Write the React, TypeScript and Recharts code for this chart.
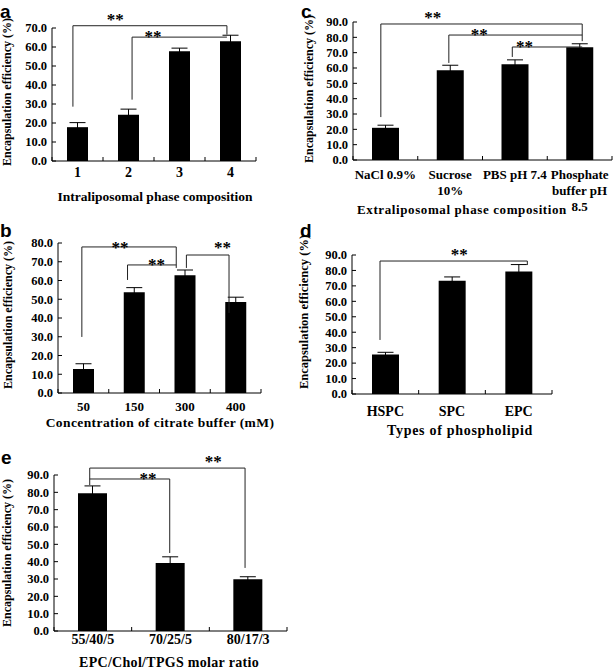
import React from "react";
import { BarChart, Bar, XAxis, YAxis, ErrorBar, ReferenceLine, ReferenceDot } from "recharts";

const PAGE_W = 614;
const PAGE_H = 670;
const SERIF = '"Liberation Serif", "Times New Roman", serif';
const SANS = '"Liberation Sans", Arial, sans-serif';

// brackets: [xStart, yStart, yTop, xEnd, yEnd], x in category units (bar i centre = i + 0.5)
// stars: [x, y]

// panel a
const catsA = ["1", "2", "3", "4"];
const effA = [17.8, 24.3, 57.8, 63.0];
const sdA = [2.4, 3.0, 1.6, 3.2];
const ticksA = [0, 10, 20, 30, 40, 50, 60, 70];
const bracketsA = [
  [0.41, 28.6, 71.2, 3.43, 66.5],
  [1.57, 32.3, 65.2, 3.43, 65.2],
];
const starsA = [
  [1.24, 75.8],
  [1.98, 67.3],
];

// panel b
const catsB = ["50", "150", "300", "400"];
const effB = [12.8, 53.8, 62.8, 48.5];
const sdB = [2.8, 2.4, 2.8, 2.6];
const ticksB = [0, 10, 20, 30, 40, 50, 60, 70, 80];
const bracketsB = [
  [0.47, 29.9, 77.9, 2.33, 66.7],
  [1.37, 60.3, 68.3, 2.33, 68.3],
  [2.53, 66.7, 73.6, 3.37, 42.7],
];
const starsB = [
  [1.22, 79.0],
  [1.94, 69.9],
  [3.24, 79.0],
];

// panel c
const catsC = ["NaCl 0.9%", "Sucrose\n10%", "PBS pH 7.4", "Phosphate\nbuffer pH\n8.5"];
const effC = [21.0, 58.5, 62.5, 73.5];
const sdC = [1.7, 3.3, 2.8, 2.3];
const ticksC = [0, 10, 20, 30, 40, 50, 60, 70, 80, 90];
const bracketsC = [
  [0.43, 28.0, 88.7, 3.54, 77.5],
  [1.48, 63.3, 81.5, 3.54, 81.5],
  [2.46, 67.2, 73.7, 3.54, 73.7],
];
const starsC = [
  [1.23, 94.6],
  [1.95, 83.5],
  [2.65, 76.3],
];

// panel d
const catsD = ["HSPC", "SPC", "EPC"];
const effD = [25.5, 73.3, 79.3];
const sdD = [1.5, 2.5, 4.5];
const ticksD = [0, 10, 20, 30, 40, 50, 60, 70, 80, 90];
const bracketsD = [[0.42, 35.0, 86.1, 2.63, 83.5]];
const starsD = [[1.61, 92.0]];

// panel e
const catsE = ["55/40/5", "70/25/5", "80/17/3"];
const effE = [79.5, 39.3, 29.8];
const sdE = [4.2, 3.5, 1.5];
const ticksE = [0, 10, 20, 30, 40, 50, 60, 70, 80, 90];
const bracketsE = [
  [0.46, 84.2, 94.0, 2.46, 36.4],
  [0.46, 87.7, 87.7, 1.49, 45.0],
];
const starsE = [
  [2.05, 99.8],
  [1.21, 90.0],
];

type PanelProps = {
  cats: string[];
  vals: number[];
  errs: number[];
  ticks: number[];
  brackets: number[][];
  stars: number[][];
  box: [number, number, number, number]; // plot left, top, right, bottom
  barSize: number;
  tickY: number;
  tickFont?: number;
  lineH?: number;
};

function Panel({ cats, vals, errs, ticks, brackets, stars, box, barSize, tickY, tickFont = 14, lineH = 16 }: PanelProps) {
  const data = cats.map((name, i) => ({ name, value: vals[i], err: errs[i] }));
  const [l, t, r, b] = box;
  const n = cats.length;
  const bw = (r - l) / n;
  const YW = 40;
  const XH = Math.min(40, PAGE_H - b);
  const yMax = ticks[ticks.length - 1];

  // fractional category position -> nearest category + pixel nudge within its band
  const at = (x: number) => {
    const k = Math.min(n - 1, Math.max(0, Math.floor(x)));
    return { cat: cats[k], dx: (x - (k + 0.5)) * bw };
  };

  const seg = (key: string, xa: number, ya: number, xb: number, yb: number) => {
    const A = at(xa);
    const B = at(xb);
    return (
      <ReferenceLine
        key={key}
        segment={[
          { x: A.cat, y: ya },
          { x: B.cat, y: yb },
        ]}
        ifOverflow="visible"
        shape={(p: any) => (
          <line x1={p.x1 + A.dx} y1={p.y1} x2={p.x2 + B.dx} y2={p.y2} stroke="#222" strokeWidth={1} />
        )}
      />
    );
  };

  const xTick = (props: any) => {
    const { x, payload, index } = props;
    const lines = String(payload.value).split("\n");
    return (
      <g>
        <line x1={x - bw / 2} x2={x - bw / 2} y1={b} y2={b - 4} stroke="#000" />
        {index === n - 1 && <line x1={x + bw / 2} x2={x + bw / 2} y1={b} y2={b - 4} stroke="#000" />}
        <text x={x} y={tickY} textAnchor="middle" fontFamily={SERIF} fontWeight="bold" fontSize={tickFont} fill="#000">
          {lines.map((s, i) => (
            <tspan key={i} x={x} dy={i === 0 ? 0 : lineH}>
              {s}
            </tspan>
          ))}
        </text>
      </g>
    );
  };

  const yTick = (props: any) => {
    const { y, payload } = props;
    return (
      <g>
        <line x1={l} x2={l + 4} y1={y} y2={y} stroke="#000" />
        <text x={l - 5} y={y} dy="0.35em" textAnchor="end" fontFamily={SERIF} fontWeight="bold" fontSize={12.5} fill="#000">
          {Number(payload.value).toFixed(1)}
        </text>
      </g>
    );
  };

  return (
    <div style={{ position: "absolute", left: 0, top: 0 }}>
      <BarChart
        width={PAGE_W}
        height={PAGE_H}
        data={data}
        margin={{ top: t, left: l - YW, right: PAGE_W - r, bottom: PAGE_H - b - XH }}
      >
        <XAxis
          dataKey="name"
          interval={0}
          height={XH}
          axisLine={{ stroke: "#000" }}
          tickLine={false}
          tick={xTick}
        />
        <YAxis
          type="number"
          domain={[0, yMax]}
          ticks={ticks}
          interval={0}
          width={YW}
          axisLine={{ stroke: "#000" }}
          tickLine={false}
          tick={yTick}
        />
        <Bar dataKey="value" fill="#000" barSize={barSize} isAnimationActive={false}>
          <ErrorBar dataKey="err" width={8} stroke="#000" strokeWidth={1} direction="y" isAnimationActive={false} />
        </Bar>
        {brackets.map(([x1, y1, yt, x2, y2], i) => [
          seg(`v1${i}`, x1, y1, x1, yt),
          seg(`h${i}`, x1, yt, x2, yt),
          seg(`v2${i}`, x2, yt, x2, y2),
        ])}
        {stars.map(([sx, sy], i) => {
          const S = at(sx);
          return (
            <ReferenceDot
              key={`s${i}`}
              x={S.cat}
              y={sy}
              r={1}
              ifOverflow="visible"
              shape={(p: any) => (
                <text x={p.cx + S.dx} y={p.cy} dy="0.5em" textAnchor="middle" fontFamily={SERIF} fontWeight="bold" fontSize={17} fill="#000">
                  **
                </text>
              )}
            />
          );
        })}
      </BarChart>
    </div>
  );
}

const letters = [
  ["a", 0, 17.5],
  ["c", 301, 17.5],
  ["b", 0, 237],
  ["d", 300, 237],
  ["e", 1, 464],
];
// [x centre, y centre, font size]
const yTitles = [
  [7, 92, 12],
  [8, 315, 12],
  [309, 89, 12],
  [304, 312, 12.5],
  [7, 553, 12],
];
// [text, x centre, baseline, font size, letter spacing]
const xTitles = [
  ["Intraliposomal phase composition", 155, 201, 13.5, 0],
  ["Concentration of citrate buffer (mM)", 160, 427, 13.5, 0.4],
  ["Extraliposomal phase composition", 462, 214, 13, 0.6],
  ["Types of phospholipid", 460, 435, 14, 0.7],
  ["EPC/Chol/TPGS molar ratio", 169, 667, 14, 0.3],
];

export default function App() {
  return (
    <div style={{ position: "absolute", left: 0, top: 0, width: PAGE_W, height: PAGE_H, background: "#fff", overflow: "hidden" }}>
      <Panel cats={catsA} vals={effA} errs={sdA} ticks={ticksA} brackets={bracketsA} stars={starsA} box={[52, 28, 256, 161]} barSize={21} tickY={177} />
      <Panel cats={catsB} vals={effB} errs={sdB} ticks={ticksB} brackets={bracketsB} stars={starsB} box={[58, 243, 261, 393]} barSize={21} tickY={411} tickFont={13} />
      <Panel cats={catsC} vals={effC} errs={sdC} ticks={ticksC} brackets={bracketsC} stars={starsC} box={[353, 22, 612, 160]} barSize={27} tickY={179} tickFont={13} lineH={16} />
      <Panel cats={catsD} vals={effD} errs={sdD} ticks={ticksD} brackets={bracketsD} stars={starsD} box={[352, 255, 552, 394]} barSize={27} tickY={416} />
      <Panel cats={catsE} vals={effE} errs={sdE} ticks={ticksE} brackets={bracketsE} stars={starsE} box={[54, 475, 287, 631]} barSize={29} tickY={644} />
      <svg width={PAGE_W} height={PAGE_H} style={{ position: "absolute", left: 0, top: 0, pointerEvents: "none" }}>
        {letters.map(([s, x, y]) => (
          <text key={String(s)} x={x as number} y={y as number} fontFamily={SANS} fontWeight="bold" fontSize={19} fill="#000">
            {s}
          </text>
        ))}
        {yTitles.map(([cx, cy, fs], i) => (
          <text
            key={i}
            x={cx}
            y={cy}
            dy="0.35em"
            textAnchor="middle"
            transform={`rotate(-90, ${cx}, ${cy})`}
            fontFamily={SERIF}
            fontWeight="bold"
            fontSize={fs}
            fill="#000"
          >
            Encapsulation efficiency (%)
          </text>
        ))}
        {xTitles.map(([s, x, y, fs, ls]) => (
          <text
            key={String(s)}
            x={x as number}
            y={y as number}
            textAnchor="middle"
            fontFamily={SERIF}
            fontWeight="bold"
            fontSize={fs as number}
            letterSpacing={ls as number}
            fill="#000"
          >
            {s}
          </text>
        ))}
      </svg>
    </div>
  );
}
